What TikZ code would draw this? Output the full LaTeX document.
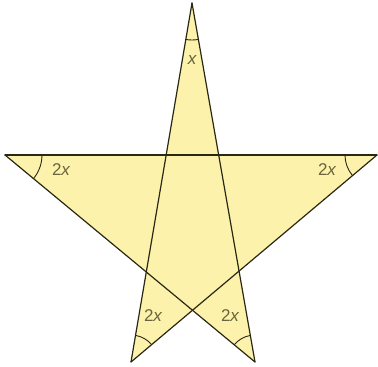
\documentclass[tikz,border=0pt]{standalone}
\usepackage{fontspec}
\setmainfont{Liberation Sans}
\usetikzlibrary{angles}
\definecolor{starfill}{RGB}{253,242,172}
\definecolor{edge}{RGB}{40,40,20}
\definecolor{lbl}{RGB}{105,100,60}
\tikzset{
  edgeline/.style={draw=edge, line width=1.2pt, line cap=round},
  anglemark/.style={draw=edge, line width=0.9pt},
  anglelbl/.style={text=lbl, font=\fontsize{17}{17}\selectfont, inner sep=0pt}
}
\begin{document}
\begin{tikzpicture}[x=1pt,y=-1pt]
\useasboundingbox (0,0) rectangle (378,367);
\coordinate (T) at (192,3);
\coordinate (L) at (5,155);
\coordinate (R) at (377,155);
\coordinate (BL) at (131,362);
\coordinate (BR) at (255,362);
\fill[starfill, nonzero rule] (T) -- (BL) -- (R) -- (L) -- (BR) -- cycle;
\draw[edgeline] (T) -- (BL);
\draw[edgeline] (T) -- (BR);
\draw[edgeline] (L) -- (R);
\draw[edgeline] (L) -- (BR);
\draw[edgeline] (R) -- (BL);
\pic[anglemark, angle radius=37pt] {angle = BL--T--BR};
\pic[anglemark, angle radius=37pt] {angle = BR--L--R};
\pic[anglemark, angle radius=32pt] {angle = L--R--BL};
\pic[anglemark, angle radius=27pt] {angle = R--BL--T};
\pic[anglemark, angle radius=27pt] {angle = T--BR--L};
\node[anglelbl] (lt) at (192,60) {\itshape x};
\node[anglelbl] (ll) at (61,170) {2\itshape x};
\node[anglelbl] (lr) at (327,170) {2\itshape x};
\node[anglelbl] (lbl) at (153,316) {2\itshape x};
\node[anglelbl] (lbr) at (230,316) {2\itshape x};
\end{tikzpicture}
\end{document}
